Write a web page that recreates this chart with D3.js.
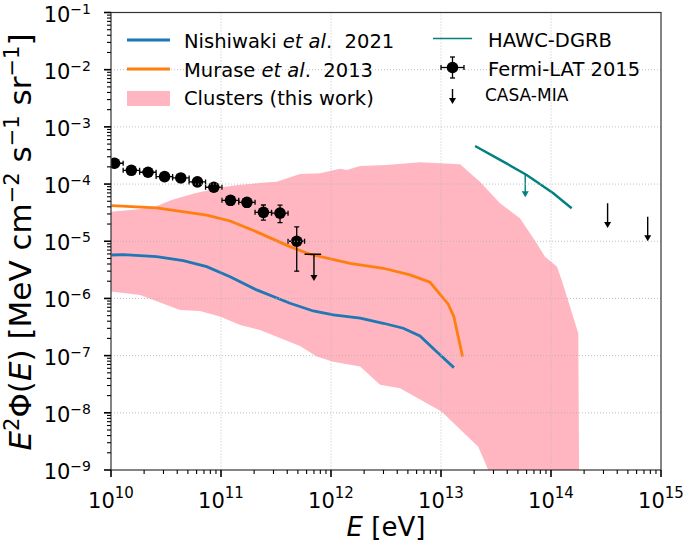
<!DOCTYPE html>
<html><head><meta charset="utf-8">
<script src="https://cdn.jsdelivr.net/npm/d3@7"></script>
<style>body{margin:0;background:#fff}svg{display:block;font-family:"DejaVu Sans",sans-serif}</style>
</head><body><svg id="c" width="685" height="541"></svg>
<script>
// ---------- data ----------
const nishiwakiE = [1.01e10,1.29e10,2.60e10,4.54e10,7.41e10,1.21e11,2.11e11,3.44e11,4.24e11,6.90e11,1.05e12,1.84e12,2.99e12,4.54e12,6.44e12,9.14e12,1.31e13];
const nishiwakiF = [5.75e-6,5.83e-6,5.38e-6,4.58e-6,3.60e-6,2.40e-6,1.41e-6,9.68e-7,8.24e-7,6.04e-7,5.14e-7,4.51e-7,3.68e-7,3.01e-7,2.21e-7,1.17e-7,6.17e-8];
const muraseE = [1.01e10,2.60e10,7.41e10,1.21e11,2.11e11,4.24e11,6.44e11,1.49e12,2.99e12,5.22e12,7.94e12,1.16e13,1.31e13,1.57e13];
const muraseF = [4.19e-5,3.82e-5,2.85e-5,2.26e-5,1.46e-5,8.05e-6,5.93e-6,4.12e-6,3.37e-6,2.58e-6,1.92e-6,8.02e-7,4.81e-7,9.62e-8];
const bandUpperE = [1.0e10,1.77e10,2.51e10,3.56e10,5.81e10,1.01e11,1.44e11,2.51e11,3.21e11,5.22e11,7.94e11,1.21e12,1.39e12,1.84e12,3.21e12,6.44e12,1.49e13,2.26e13,3.44e13,5.22e13,7.41e13,8.81e13,1.13e14,1.25e14,1.77e14,1.80e14,1.80e14];
const bandUpperF = [3.29e-5,3.62e-5,4.03e-5,5.27e-5,6.90e-5,8.79e-5,9.64e-5,1.06e-4,1.10e-4,1.50e-4,1.55e-4,1.86e-4,1.77e-4,2.07e-4,2.16e-4,2.40e-4,2.22e-4,1.10e-4,4.61e-5,2.52e-5,9.23e-6,5.38e-6,3.60e-6,2.10e-6,2.47e-7,1e-9,3e-10];
const bandLowerE = [1.0e10,1.84e10,2.43e10,4.24e10,6.44e10,9.79e10,1.49e11,2.26e11,5.22e11,7.41e11,1.05e12,1.84e12,2.79e12,4.24e12,1.01e13,2.18e13,2.69e13,3.0e13];
const bandLowerF = [1.32e-6,1.15e-6,9.42e-7,6.30e-7,6.05e-7,4.81e-7,3.44e-7,2.81e-7,1.48e-7,9.62e-8,7.85e-8,6.43e-8,3.08e-8,2.69e-8,1.05e-8,2.56e-9,1e-9,3e-10];
const fermiE  = [1.08e10,1.53e10,2.17e10,3.07e10,4.31e10,6.10e10,8.60e10,1.22e11,1.72e11,2.43e11,3.44e11,4.88e11];
const fermiElo= [9.12e9,1.29e10,1.82e10,2.57e10,3.63e10,5.13e10,7.24e10,1.02e11,1.45e11,2.04e11,2.88e11,4.07e11];
const fermiEhi= [1.29e10,1.82e10,2.57e10,3.63e10,5.13e10,7.24e10,1.02e11,1.45e11,2.04e11,2.88e11,4.07e11,5.75e11];
const fermiF  = [2.31e-4,1.74e-4,1.61e-4,1.35e-4,1.28e-4,1.09e-4,8.8e-5,5.2e-5,4.8e-5,3.2e-5,3.1e-5,1.0e-5];
const fermiFlo= [2.20e-4,1.66e-4,1.53e-4,1.28e-4,1.22e-4,1.03e-4,8.3e-5,4.3e-5,3.9e-5,2.35e-5,2.11e-5,3.0e-6];
const fermiFhi= [2.43e-4,1.83e-4,1.69e-4,1.42e-4,1.35e-4,1.15e-4,9.3e-5,6.0e-5,5.5e-5,4.3e-5,4.27e-5,1.78e-5];
const fermiUL = {E:7.0e11, lo:5.75e11, hi:8.13e11, F:5.93e-6};
const hawcE = [2.04e13,3.68e13,6.01e13,1.05e14,1.54e14];
const hawcF = [4.63e-4,2.47e-4,1.44e-4,6.90e-5,3.78e-5];
const hawcUL = {E:5.83e13, F:1.51e-4};
const casaE = [3.27e14,7.57e14];
const casaF = [4.61e-5,2.69e-5];
const ulRatio = 0.37;
const xTicks = [1e10,1e11,1e12,1e13,1e14,1e15];
const xTickExp = ["10","11","12","13","14","15"];
const yTicks = [1e-9,1e-8,1e-7,1e-6,1e-5,1e-4,1e-3,1e-2,1e-1];
const yTickExp = ["−9","−8","−7","−6","−5","−4","−3","−2","−1"];

// ---------- layout ----------
const L=111,R=661,T=12.5,B=470;
const svg=d3.select("#c");
const x=d3.scaleLog().domain([1e10,1e15]).range([L,R]);
const y=d3.scaleLog().domain([1e-9,1e-1]).range([B,T]);
const C={blue:"#1f77b4",orange:"#ff7f0e",pink:"#ffb6c1",teal:"#008080"};

svg.append("defs").append("clipPath").attr("id","clip").append("rect").attr("x",L).attr("y",T).attr("width",R-L).attr("height",B-T);
const plot=svg.append("g").attr("clip-path","url(#clip)");

// band
const poly=bandUpperE.map((e,i)=>[x(e),y(bandUpperF[i])]).concat(bandLowerE.map((e,i)=>[x(e),y(bandLowerF[i])]).reverse());
plot.append("path").attr("d","M"+poly.join("L")+"Z").attr("fill",C.pink);

// grid
const grid=svg.append("g").attr("stroke","#b0b0b0").attr("stroke-width",0.8).attr("stroke-dasharray","1,2");
xTicks.slice(1,-1).forEach(t=>grid.append("line").attr("x1",x(t)).attr("x2",x(t)).attr("y1",T).attr("y2",B));
yTicks.slice(1,-1).forEach(t=>grid.append("line").attr("y1",y(t)).attr("y2",y(t)).attr("x1",L).attr("x2",R));

const line=d3.line().x(d=>x(d[0])).y(d=>y(d[1]));
plot.append("path").attr("d",line(nishiwakiE.map((e,i)=>[e,nishiwakiF[i]]))).attr("fill","none").attr("stroke",C.blue).attr("stroke-width",2.8);
plot.append("path").attr("d",line(muraseE.map((e,i)=>[e,muraseF[i]]))).attr("fill","none").attr("stroke",C.orange).attr("stroke-width",2.8);
plot.append("path").attr("d",line(hawcE.map((e,i)=>[e,hawcF[i]]))).attr("fill","none").attr("stroke",C.teal).attr("stroke-width",2.4);

function arrowDown(g,px,py1,py2,col,w){
  g.append("line").attr("x1",px).attr("x2",px).attr("y1",py1).attr("y2",py2-5).attr("stroke",col).attr("stroke-width",w);
  g.append("path").attr("d",`M${px-3.5},${py2-6}L${px+3.5},${py2-6}L${px},${py2}Z`).attr("fill",col);
}
// HAWC UL
arrowDown(plot,x(hawcUL.E),y(hawcUL.F),y(hawcUL.F*ulRatio*1.05),C.teal,1.4);
// CASA
casaE.forEach((e,i)=>arrowDown(plot,x(e),y(casaF[i]),y(casaF[i]*ulRatio),"#000",1.4));

// Fermi
const fg=plot.append("g").attr("stroke","#000").attr("stroke-width",1.3);
fermiE.forEach((e,i)=>{
  const cx=x(e),cy=y(fermiF[i]);
  fg.append("line").attr("x1",x(fermiElo[i])).attr("x2",x(fermiEhi[i])).attr("y1",cy).attr("y2",cy);
  fg.append("line").attr("x1",cx).attr("x2",cx).attr("y1",y(fermiFlo[i])).attr("y2",y(fermiFhi[i]));
  [fermiElo[i],fermiEhi[i]].forEach(v=>fg.append("line").attr("x1",x(v)).attr("x2",x(v)).attr("y1",cy-2.5).attr("y2",cy+2.5));
  [fermiFlo[i],fermiFhi[i]].forEach(v=>fg.append("line").attr("x1",cx-2.5).attr("x2",cx+2.5).attr("y1",y(v)).attr("y2",y(v)));
  fg.append("circle").attr("cx",cx).attr("cy",cy).attr("r",5.8).attr("fill","#000").attr("stroke","none");
});
{
  const cx=x(fermiUL.E),cy=y(fermiUL.F);
  fg.append("line").attr("x1",x(fermiUL.lo)).attr("x2",x(fermiUL.hi)).attr("y1",cy).attr("y2",cy);
  arrowDown(plot,cx,cy,y(fermiUL.F*ulRatio*0.92),"#000",1.4);
}

// axes frame
svg.append("rect").attr("x",L).attr("y",T).attr("width",R-L).attr("height",B-T).attr("fill","none").attr("stroke","#333").attr("stroke-width",1.2);

// ticks
const ax=svg.append("g").attr("stroke","#000").attr("stroke-width",1.1);
for(let d=10;d<15;d++){for(let k=2;k<10;k++){const v=k*Math.pow(10,d);
  ax.append("line").attr("x1",x(v)).attr("x2",x(v)).attr("y1",B).attr("y2",B+4);}}
xTicks.forEach(t=>ax.append("line").attr("x1",x(t)).attr("x2",x(t)).attr("y1",B).attr("y2",B+7).attr("stroke-width",1.6));
for(let d=-9;d<-1;d++){for(let k=2;k<10;k++){const v=k*Math.pow(10,d);
  ax.append("line").attr("y1",y(v)).attr("y2",y(v)).attr("x1",L).attr("x2",L-4);}}
yTicks.forEach(t=>ax.append("line").attr("y1",y(t)).attr("y2",y(t)).attr("x1",L).attr("x2",L-7).attr("stroke-width",1.6));

// tick labels
xTicks.forEach((t,i)=>{
  const tx=svg.append("text").attr("x",x(t)).attr("y",B+38).attr("text-anchor","middle").attr("font-size",21).attr("fill","#000");
  tx.append("tspan").text("10");
  tx.append("tspan").attr("dy",-10).attr("font-size",15).text(xTickExp[i]);
});
yTicks.forEach((t,i)=>{
  const tx=svg.append("text").attr("x",L-20).attr("y",y(t)+9).attr("text-anchor","end").attr("font-size",21).attr("fill","#000");
  tx.append("tspan").text("10");
  tx.append("tspan").attr("dy",-8).attr("font-size",14).text(yTickExp[i]);
});

// axis labels
const xl=svg.append("text").attr("x",386).attr("y",536).attr("text-anchor","middle").attr("font-size",26);
xl.append("tspan").attr("font-style","italic").text("E");
xl.append("tspan").text(" [eV]");
const yl=svg.append("text").attr("transform","translate(31,242) rotate(-90)").attr("text-anchor","middle").attr("font-size",31);
const sup=(t)=>{yl.append("tspan").attr("dy",-12).attr("font-size",21).text(t);};
const nor=(t)=>{yl.append("tspan").attr("dy",12).text(t);};
yl.append("tspan").attr("font-style","italic").text("E");
sup("2");
nor("Φ(");
yl.append("tspan").attr("font-style","italic").text("E");
yl.append("tspan").text(") [MeV cm");
sup("−2"); nor(" s"); sup("−1"); nor(" sr"); sup("−1"); nor("]");

// legend
const lg=svg.append("g");
const fs=19.5;
lg.append("line").attr("x1",127).attr("x2",170).attr("y1",40).attr("y2",40).attr("stroke",C.blue).attr("stroke-width",2.8);
let t1=lg.append("text").attr("x",184).attr("y",47.5).attr("font-size",fs);
t1.append("tspan").text("Nishiwaki ");t1.append("tspan").attr("font-style","italic").text("et al");t1.append("tspan").text(".\u00a0\u00a02021");
lg.append("line").attr("x1",127).attr("x2",170).attr("y1",69).attr("y2",69).attr("stroke",C.orange).attr("stroke-width",2.8);
let t2=lg.append("text").attr("x",184).attr("y",76.5).attr("font-size",fs);
t2.append("tspan").text("Murase ");t2.append("tspan").attr("font-style","italic").text("et al");t2.append("tspan").text(".\u00a0\u00a02013");
lg.append("rect").attr("x",127).attr("y",91).attr("width",43).attr("height",15).attr("fill",C.pink);
lg.append("text").attr("x",184).attr("y",105).attr("font-size",fs).text("Clusters (this work)");
lg.append("line").attr("x1",433).attr("x2",472).attr("y1",38.5).attr("y2",38.5).attr("stroke",C.teal).attr("stroke-width",1.5);
lg.append("text").attr("x",488).attr("y",46.5).attr("font-size",fs).text("HAWC-DGRB");
const lf=lg.append("g").attr("stroke","#000").attr("stroke-width",1.3);
lf.append("line").attr("x1",441).attr("x2",464).attr("y1",67.5).attr("y2",67.5);
lf.append("line").attr("x1",452.5).attr("x2",452.5).attr("y1",57).attr("y2",78);
[441,464].forEach(v=>lf.append("line").attr("x1",v).attr("x2",v).attr("y1",65).attr("y2",70));
[57,78].forEach(v=>lf.append("line").attr("x1",450).attr("x2",455).attr("y1",v).attr("y2",v));
lf.append("circle").attr("cx",452.5).attr("cy",67.5).attr("r",5.8).attr("fill","#000").attr("stroke","none");
lg.append("text").attr("x",488).attr("y",75.5).attr("font-size",fs).text("Fermi-LAT 2015");
arrowDown(lg,452.5,89,104,"#000",1.4);
lg.append("text").attr("x",485).attr("y",101).attr("font-size",17).text("CASA-MIA");
</script></body></html>
